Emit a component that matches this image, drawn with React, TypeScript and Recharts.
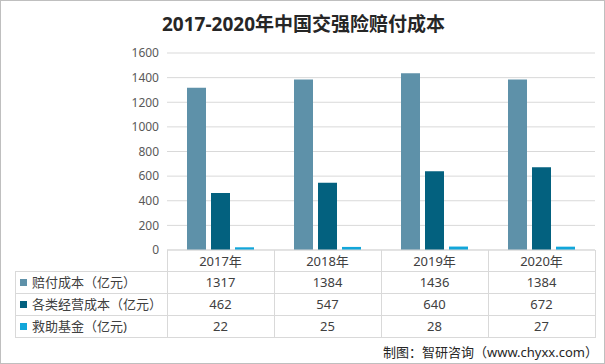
import React from "react";
import { BarChart, Bar, XAxis, YAxis, CartesianGrid } from "recharts";

const years = ["2017年", "2018年", "2019年", "2020年"];
const payout = [1317, 1384, 1436, 1384];
const operating = [462, 547, 640, 672];
const rescue = [22, 25, 28, 27];
const yTicks = [0, 200, 400, 600, 800, 1000, 1200, 1400, 1600];

const series = [
  { key: "payout", name: "赔付成本（亿元）", color: "#5E91A9", values: payout },
  { key: "operating", name: "各类经营成本（亿元）", color: "#03617F", values: operating },
  { key: "rescue", name: "救助基金（亿元)", color: "#12A6DA", values: rescue },
];

const data = years.map((year, i) => ({
  year,
  payout: payout[i],
  operating: operating[i],
  rescue: rescue[i],
}));

const W = 605;
const H = 364;
const plotLeft = 167;
const plotRight = 595;
const axisY = 250;
const xAxisH = 21;
const rowLines = [271, 293, 315, 337];
const lineColor = "#d9d9d9";
const font = "'Noto Sans', 'Noto Sans CJK SC', sans-serif";

export default function App() {
  const colW = (plotRight - plotLeft) / years.length;
  return (
    <div
      style={{
        position: "absolute",
        left: 0,
        top: 0,
        width: W,
        height: H,
        background: "#fff",
        fontFamily: font,
        boxSizing: "border-box",
        border: "1px solid #bfbfbf",
      }}
    >
      <div
        style={{
          position: "absolute",
          left: 0,
          top: 8,
          width: W,
          textAlign: "center",
          fontSize: 19,
          fontWeight: 700,
          color: "#262626",
        }}
      >
        2017-2020年中国交强险赔付成本
      </div>
      <div style={{ position: "absolute", left: -1, top: -1 }}>
        <BarChart
          width={W}
          height={H}
          data={data}
          margin={{ top: 53, right: W - plotRight, bottom: H - axisY - xAxisH, left: 0 }}
          barCategoryGap="20%"
          barGap={5}
          style={{ fontFamily: font }}
        >
          <CartesianGrid vertical={false} stroke={lineColor} />
          <XAxis
            dataKey="year"
            height={xAxisH}
            axisLine={{ stroke: lineColor }}
            tickLine={false}
            tickMargin={1}
            tick={{ fontSize: 13, fill: "#404040", fontFamily: font }}
          />
          <YAxis
            width={plotLeft}
            domain={[0, 1600]}
            ticks={yTicks}
            axisLine={false}
            tickLine={false}
            tick={{ fontSize: 12, fill: "#595959", fontFamily: font }}
          />
          {series.map((s) => (
            <Bar key={s.key} dataKey={s.key} name={s.name} fill={s.color} barSize={19} isAnimationActive={false} />
          ))}
        </BarChart>
      </div>
      {/* data table grid */}
      <div style={{ position: "absolute", left: 0, top: 0, width: W, height: H, pointerEvents: "none" }}>
        {[0, 1, 2, 3, 4].map((i) => (
          <div
            key={"v" + i}
            style={{
              position: "absolute",
              left: plotLeft + i * colW - 1,
              top: axisY - 1,
              width: 1,
              height: rowLines[3] - axisY + 1,
              background: lineColor,
            }}
          />
        ))}
        <div
          style={{
            position: "absolute",
            left: 14,
            top: rowLines[0] - 1,
            width: 1,
            height: rowLines[3] - rowLines[0] + 1,
            background: lineColor,
          }}
        />
        {rowLines.map((y) => (
          <div
            key={"h" + y}
            style={{ position: "absolute", left: 14, top: y - 1, width: plotRight - 15, height: 1, background: lineColor }}
          />
        ))}
        {series.map((s, r) => (
          <React.Fragment key={s.key}>
            <div
              style={{
                position: "absolute",
                left: 19,
                top: rowLines[r] + 7,
                width: 7,
                height: 7,
                background: s.color,
              }}
            />
            <div
              style={{
                position: "absolute",
                left: 31,
                top: rowLines[r],
                height: 22,
                lineHeight: "21px",
                fontSize: 13,
                color: "#404040",
                whiteSpace: "nowrap",
              }}
            >
              {s.name}
            </div>
            {s.values.map((v, c) => (
              <div
                key={c}
                style={{
                  position: "absolute",
                  left: plotLeft + c * colW - 1,
                  top: rowLines[r],
                  width: colW,
                  height: 22,
                  lineHeight: "21px",
                  textAlign: "center",
                  fontSize: 13,
                  color: "#404040",
                }}
              >
                {v}
              </div>
            ))}
          </React.Fragment>
        ))}
        <div
          style={{
            position: "absolute",
            right: 8,
            top: 341,
            fontSize: 13,
            color: "#262626",
            whiteSpace: "nowrap",
          }}
        >
          制图：智研咨询（www.chyxx.com）
        </div>
      </div>
    </div>
  );
}
